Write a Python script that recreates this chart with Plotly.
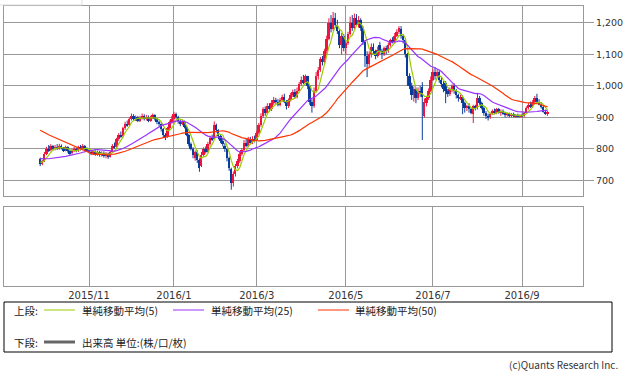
import pandas as pd
import plotly.graph_objects as go

# ---- trading calendar (TSE), Sep 29 2015 - Sep 20 2016 ----
jp_holidays = ["2015-10-12", "2015-11-03", "2015-11-23", "2015-12-23", "2015-12-31",
               "2016-01-01", "2016-01-11", "2016-02-11", "2016-03-21", "2016-04-29",
               "2016-05-03", "2016-05-04", "2016-05-05", "2016-07-18", "2016-08-11",
               "2016-09-19"]
bd = pd.bdate_range("2015-09-29", "2016-09-20")
dates = [d for d in bd if d.strftime("%Y-%m-%d") not in jp_holidays]

tick_months = ["2015-11", "2016-01", "2016-03", "2016-05", "2016-07", "2016-09"]
tick_labels = ["2015/11", "2016/1", "2016/3", "2016/5", "2016/7", "2016/9"]
y_ticks = [700, 800, 900, 1000, 1100, 1200]

# closes before the visible window (only feed the moving averages)
prior_closes = [965, 958, 970, 962, 955, 948, 960, 952, 945, 958,
                950, 942, 955, 948, 940, 952, 945, 938, 950, 942,
                935, 948, 940, 932, 939,
                780, 790, 785, 795, 788, 780, 792, 785, 778, 770,
                765, 772, 760, 755, 765, 758, 750, 762, 755, 748,
                758, 762, 755, 760]

opens = [768, 752, 760, 785, 800, 795, 808, 798, 806, 800,
         810, 802, 796, 805, 792, 786, 795, 800, 794, 805,
         798, 808, 800, 796, 790, 785, 792, 782, 790, 780,
         788, 778, 784, 775, 790, 810, 805, 830, 845, 840,
         865, 880, 875, 895, 905, 895, 900, 890, 898, 905,
         895, 902, 890, 900, 906, 895, 885, 880, 862, 845,
         838, 865, 885, 895, 910, 900, 888, 880, 885, 870,
         845, 815, 800, 770, 790, 765, 745, 780, 800, 790,
         815, 835, 830, 875, 860, 840, 825, 810, 800, 770,
         735, 690, 720, 745, 760, 785, 795, 820, 810, 830,
         820, 832, 828, 850, 875, 905, 925, 915, 935, 925,
         945, 955, 950, 940, 955, 965, 950, 935, 955, 970,
         980, 965, 985, 1005, 1020, 1010, 1030, 1000, 950, 935,
         985, 1030, 1050, 1085, 1075, 1110, 1150, 1200, 1180, 1215,
         1195, 1175, 1130, 1160, 1120, 1135, 1165, 1200, 1185, 1215,
         1195, 1210, 1185, 1140, 1095, 1070, 1100, 1125, 1110, 1095,
         1130, 1110, 1100, 1120, 1110, 1130, 1145, 1140, 1160, 1170,
         1180, 1160, 1145, 1100, 1030, 1000, 970, 990, 960, 985,
         995, 905, 945, 960, 985, 1020, 1045, 1030, 1045, 1020,
         1005, 1010, 985, 975, 990, 1000, 985, 970, 960, 965,
         945, 930, 935, 925, 912, 935, 930, 962, 945, 930,
         915, 905, 900, 912, 920, 915, 925, 915, 920, 912,
         908, 912, 905, 910, 903, 908, 902, 906, 904, 915,
         930, 940, 935, 950, 962, 950, 940, 932, 918, 912]

highs = [772, 765, 790, 806, 812, 815, 812, 812, 815, 816,
         814, 806, 810, 808, 798, 800, 806, 804, 810, 812,
         815, 812, 805, 800, 795, 796, 795, 794, 793, 792,
         792, 790, 788, 794, 815, 820, 835, 850, 855, 870,
         886, 890, 900, 912, 910, 906, 904, 905, 912, 910,
         908, 906, 905, 912, 910, 898, 890, 884, 866, 850,
         870, 890, 905, 918, 915, 905, 893, 892, 890, 872,
         848, 820, 805, 795, 795, 770, 790, 805, 808, 822,
         842, 845, 887, 880, 862, 845, 832, 818, 802, 775,
         740, 728, 752, 768, 792, 802, 828, 832, 838, 838,
         840, 842, 858, 882, 913, 932, 935, 945, 945, 955,
         965, 962, 958, 962, 972, 975, 955, 960, 978, 988,
         990, 995, 1012, 1030, 1035, 1036, 1032, 1003, 958, 995,
         1045, 1060, 1092, 1095, 1118, 1160, 1215, 1225, 1235, 1232,
         1210, 1180, 1168, 1165, 1145, 1172, 1220, 1225, 1230, 1228,
         1222, 1215, 1190, 1145, 1110, 1110, 1135, 1135, 1115, 1125,
         1140, 1118, 1125, 1128, 1138, 1150, 1155, 1168, 1180, 1190,
         1190, 1165, 1150, 1105, 1040, 1010, 998, 995, 995, 1000,
         1012, 960, 965, 992, 1030, 1055, 1060, 1052, 1050, 1028,
         1015, 1015, 990, 995, 1005, 1008, 990, 975, 972, 970,
         950, 940, 945, 930, 940, 940, 975, 968, 950, 935,
         920, 912, 915, 925, 928, 930, 930, 925, 925, 918,
         915, 915, 914, 915, 910, 912, 910, 912, 918, 935,
         945, 950, 955, 968, 975, 958, 948, 938, 925, 920]

lows = [745, 748, 758, 780, 790, 792, 794, 795, 796, 797,
        798, 790, 792, 788, 780, 782, 790, 789, 790, 795,
        796, 796, 792, 786, 780, 780, 778, 778, 775, 775,
        772, 770, 768, 772, 788, 800, 803, 825, 835, 838,
        860, 870, 872, 890, 890, 888, 885, 885, 893, 890,
        890, 885, 886, 895, 890, 878, 872, 855, 835, 828,
        835, 860, 880, 885, 895, 880, 872, 875, 865, 840,
        808, 795, 770, 762, 755, 727, 742, 775, 785, 788,
        810, 825, 828, 852, 830, 818, 808, 790, 760, 730,
        670, 680, 712, 738, 755, 778, 790, 805, 805, 815,
        815, 820, 825, 845, 870, 898, 905, 910, 918, 920,
        940, 942, 935, 935, 950, 945, 925, 930, 950, 965,
        960, 960, 980, 1000, 1005, 1005, 990, 940, 915, 930,
        980, 1020, 1045, 1065, 1070, 1100, 1145, 1170, 1175, 1185,
        1165, 1120, 1100, 1110, 1100, 1130, 1160, 1175, 1180, 1190,
        1185, 1175, 1130, 1060, 1028, 1060, 1090, 1100, 1085, 1090,
        1100, 1085, 1095, 1100, 1105, 1125, 1135, 1135, 1155, 1165,
        1150, 1135, 1090, 1000, 990, 955, 950, 945, 955, 965,
        828, 900, 935, 955, 980, 1015, 1020, 1025, 1010, 995,
        980, 945, 965, 968, 980, 975, 960, 950, 955, 910,
        915, 920, 915, 910, 882, 922, 925, 940, 925, 905,
        895, 890, 895, 908, 910, 910, 912, 905, 908, 900,
        902, 900, 900, 900, 898, 900, 898, 900, 900, 912,
        925, 930, 930, 945, 955, 938, 928, 915, 908, 905]

closes = [752, 760, 785, 800, 795, 808, 798, 806, 800, 810,
          802, 796, 805, 792, 786, 795, 800, 794, 805, 798,
          808, 800, 796, 790, 785, 792, 782, 790, 780, 788,
          778, 784, 775, 790, 810, 805, 830, 845, 840, 865,
          880, 875, 895, 905, 895, 900, 890, 898, 905, 895,
          902, 890, 900, 906, 895, 885, 880, 862, 845, 838,
          865, 885, 895, 910, 900, 888, 880, 885, 870, 845,
          815, 800, 780, 790, 765, 740, 780, 800, 790, 815,
          835, 830, 875, 860, 840, 825, 815, 800, 770, 740,
          690, 720, 745, 760, 785, 795, 820, 810, 830, 820,
          832, 828, 850, 875, 905, 925, 915, 935, 925, 945,
          955, 950, 940, 955, 965, 950, 935, 955, 970, 980,
          965, 985, 1005, 1020, 1010, 1030, 1000, 950, 935, 985,
          1030, 1050, 1085, 1075, 1110, 1150, 1200, 1180, 1215, 1195,
          1175, 1130, 1160, 1120, 1135, 1165, 1200, 1185, 1215, 1195,
          1210, 1185, 1140, 1095, 1070, 1100, 1125, 1110, 1095, 1115,
          1110, 1100, 1120, 1110, 1130, 1145, 1140, 1160, 1170, 1185,
          1160, 1145, 1100, 1030, 1000, 970, 990, 960, 985, 975,
          965, 950, 960, 985, 1020, 1045, 1030, 1045, 1020, 1005,
          990, 985, 975, 990, 1000, 985, 970, 960, 965, 945,
          930, 935, 925, 915, 935, 928, 962, 945, 930, 915,
          905, 900, 912, 920, 915, 925, 915, 920, 912, 908,
          912, 905, 910, 903, 908, 902, 906, 904, 915, 930,
          940, 935, 950, 962, 950, 940, 932, 918, 912, 915]

ma_periods = [5, 25, 50]
ma_colors = ["#99CC00", "#9933FF", "#FF3300"]

n = len(closes)
xs = list(range(n))
full = pd.Series(prior_closes + closes, dtype=float)
mas = [full.rolling(p).mean().iloc[-n:].tolist() for p in ma_periods]

month_keys = [d.strftime("%Y-%m") for d in dates[:n]]
tick_pos = [month_keys.index(m) for m in tick_months]

RED = "#F0143C"
BLUE = "#0A3C9C"
GRID = "#999999"
FONT_JP = "Noto Sans CJK JP"

fig = go.Figure()

# candles: wick lines + body bars, split by direction
for up, col in ((True, RED), (False, BLUE)):
    idx = [i for i in xs if (closes[i] >= opens[i]) == up]
    wx, wy = [], []
    for i in idx:
        wx += [i, i, None]
        wy += [lows[i], highs[i], None]
    fig.add_trace(go.Scatter(x=wx, y=wy, mode="lines", line=dict(color=col, width=1),
                             showlegend=False, hoverinfo="skip", xaxis="x", yaxis="y"))
    fig.add_trace(go.Bar(x=idx,
                         base=[min(opens[i], closes[i]) for i in idx],
                         y=[max(abs(closes[i] - opens[i]), 2) for i in idx],
                         width=0.9, marker=dict(color=col, line=dict(width=0)),
                         showlegend=False, hoverinfo="skip", xaxis="x", yaxis="y"))

for vals, col in zip(mas, ma_colors):
    fig.add_trace(go.Scatter(x=xs, y=vals, mode="lines",
                             line=dict(color=col, width=1.2),
                             showlegend=False, hoverinfo="skip",
                             xaxis="x", yaxis="y"))
# empty volume panel (keeps the lower axes drawn)
fig.add_trace(go.Scatter(x=[0], y=[None], mode="lines", showlegend=False,
                         hoverinfo="skip", xaxis="x2", yaxis="y2"))

W, H = 626, 373
L, R, T, B = 4, 43, 6, 87
pw, ph = W - L - R, H - T - B


def px(x):
    return (x - L) / pw


def py(y):
    return (H - B - y) / ph


xr = [-17.05, 255.7]
axis_common = dict(showline=True, mirror=True, linecolor=GRID, linewidth=1,
                   zeroline=False, fixedrange=True)

fig.update_layout(
    width=W, height=H,
    margin=dict(l=L, r=R, t=T, b=B),
    paper_bgcolor="white", plot_bgcolor="white",
    showlegend=False, barmode="overlay", bargap=0,
    xaxis=dict(domain=[0, 1], range=xr, tickvals=tick_pos, showticklabels=False,
               showgrid=True, gridcolor=GRID, gridwidth=1, ticks="",
               anchor="y", **axis_common),
    yaxis=dict(domain=[py(196), 1], range=[650, 1254], side="right",
               tickvals=y_ticks, tickformat=",", ticks="outside", ticklen=10,
               tickcolor=GRID, showgrid=True, gridcolor=GRID, gridwidth=1,
               tickfont=dict(family="DejaVu Sans", size=9.5, color="#333"),
               anchor="x", automargin=False, **axis_common),
    xaxis2=dict(domain=[0, 1], range=xr, tickvals=tick_pos, ticktext=tick_labels,
                showgrid=True, gridcolor=GRID, gridwidth=1, ticks="",
                tickfont=dict(family="DejaVu Sans", size=10, color="#333"),
                anchor="y2", automargin=False, **axis_common),
    yaxis2=dict(domain=[0, py(207)], range=[0, 1], showticklabels=False,
                showgrid=False, ticks="", anchor="x2", **axis_common),
)

shapes = []
annos = []
# faint frame at top-left corner
shapes.append(dict(type="line", xref="paper", yref="paper", x0=px(0), x1=px(82),
                   y0=py(5), y1=py(5), line=dict(color="#DDDDDD", width=1)))
shapes.append(dict(type="line", xref="paper", yref="paper", x0=px(82), x1=px(82),
                   y0=py(0), y1=py(5), line=dict(color="#DDDDDD", width=1)))
# legend box
shapes.append(dict(type="rect", xref="paper", yref="paper", x0=px(4), x1=px(612),
                   y0=py(352), y1=py(302), line=dict(color="#000000", width=1)))

row1, row2 = 310, 342
ma_names = ["単純移動平均(5)", "単純移動平均(25)", "単純移動平均(50)"]
seg_x = [(44, 75), (173, 204), (318, 349)]
txt_x = [80, 209, 353]
fs = 10.5
annos.append(dict(text="上段:", x=px(12), y=py(row1), xref="paper", yref="paper",
                  xanchor="left", yanchor="middle", showarrow=False,
                  font=dict(family=FONT_JP, size=fs, color="#222")))
for (a, b), tx, nm, col in zip(seg_x, txt_x, ma_names, ma_colors):
    shapes.append(dict(type="line", xref="paper", yref="paper", x0=px(a), x1=px(b),
                       y0=py(row1), y1=py(row1), line=dict(color=col, width=1)))
    annos.append(dict(text=nm, x=px(tx), y=py(row1), xref="paper", yref="paper",
                      xanchor="left", yanchor="middle", showarrow=False,
                      font=dict(family=FONT_JP, size=fs, color="#222")))
annos.append(dict(text="下段:", x=px(12), y=py(row2), xref="paper", yref="paper",
                  xanchor="left", yanchor="middle", showarrow=False,
                  font=dict(family=FONT_JP, size=fs, color="#222")))
shapes.append(dict(type="line", xref="paper", yref="paper", x0=px(44), x1=px(75),
                   y0=py(row2), y1=py(row2), line=dict(color="#666666", width=3)))
annos.append(dict(text="出来高 単位:(株/口/枚)", x=px(80), y=py(row2), xref="paper",
                  yref="paper", xanchor="left", yanchor="middle", showarrow=False,
                  font=dict(family=FONT_JP, size=fs, color="#222")))
annos.append(dict(text="(c)Quants Research Inc.", x=px(620), y=py(365), xref="paper",
                  yref="paper", xanchor="right", yanchor="middle", showarrow=False,
                  font=dict(family=FONT_JP, size=10, color="#333")))

fig.update_layout(shapes=shapes, annotations=annos)
fig.write_html("out.html", config={"displayModeBar": False},
               post_script="document.body.style.margin='0px';document.body.style.padding='0px';")
